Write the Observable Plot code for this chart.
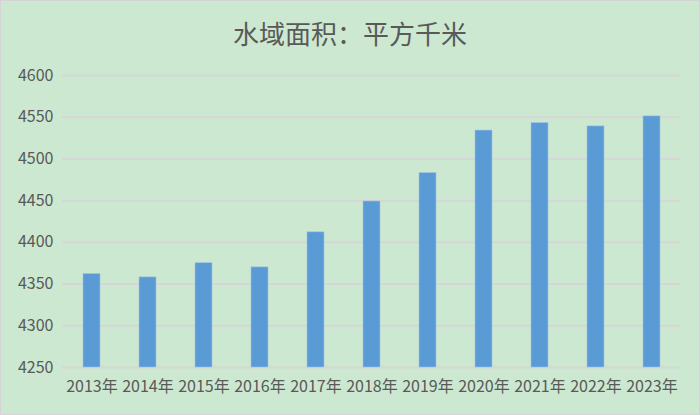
<!DOCTYPE html>
<html>
<head>
<meta charset="utf-8">
<script src="https://cdn.jsdelivr.net/npm/d3@7"></script>
<script src="https://cdn.jsdelivr.net/npm/@observablehq/plot@0.6"></script>
<style>
  html, body { margin: 0; padding: 0; }
  #wrap {
    width: 700px; height: 415px; box-sizing: border-box;
    background: #cde8d0; border: 1px solid #d4d4d4; overflow: hidden;
  }
  #title {
    height: 59px; line-height: 64px; text-align: center;
    font-family: "Noto Sans CJK SC", sans-serif; font-size: 26px; color: #595959;
  }
</style>
</head>
<body>
<div id="wrap">
  <div id="title">水域面积：平方千米</div>
  <div id="chart"></div>
</div>
<script>
const years = ["2013年","2014年","2015年","2016年","2017年","2018年","2019年","2020年","2021年","2022年","2023年"];
const values = [4362, 4358, 4375, 4370, 4412, 4449, 4483, 4534, 4543, 4539, 4551];
const yTicks = [4250, 4300, 4350, 4400, 4450, 4500, 4550, 4600];
const yBase = 4250;
const yTop = 4600;

const data = years.map((y, i) => ({year: y, value: values[i]}));

const chart = Plot.plot({
  width: 698,
  height: 354,
  marginTop: 15,
  marginBottom: 47,
  marginLeft: 61,
  marginRight: 19,
  style: {background: "transparent", fontFamily: "'Noto Sans CJK SC', 'Noto Sans', sans-serif", fontSize: "16px", color: "#595959"},
  x: {domain: years, paddingInner: 0.7, paddingOuter: 0.35, label: null},
  y: {domain: [yBase, yTop], label: null},
  marks: [
    Plot.ruleY(yTicks, {stroke: "#d6d6d6", strokeWidth: 2}),
    Plot.barY(data, {x: "year", y1: yBase, y2: "value", fill: "#5b9bd5", stroke: "#9cc3e6", strokeWidth: 0.6}),
    Plot.axisY({ticks: yTicks, tickFormat: d3.format("d"), tickSize: 0, tickPadding: 9, fontSize: 16, label: null}),
    Plot.axisX({tickSize: 0, tickPadding: 13, fontSize: 16, label: null})
  ]
});
document.getElementById("chart").appendChild(chart);
</script>
</body>
</html>
